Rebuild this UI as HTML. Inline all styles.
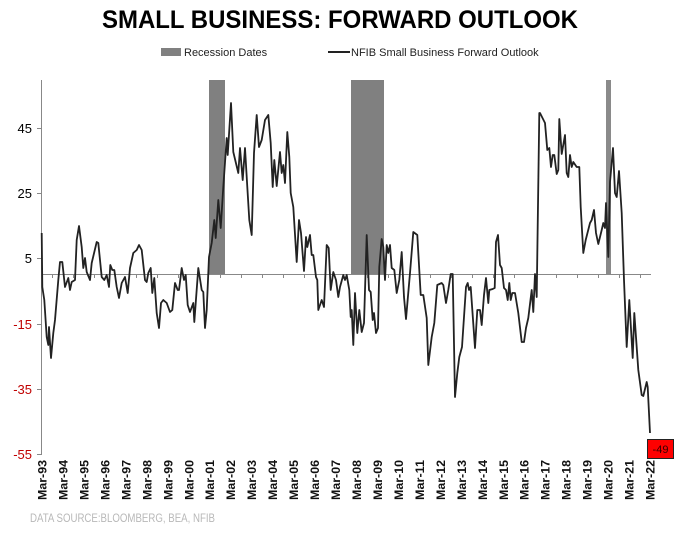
<!DOCTYPE html>
<html><head><meta charset="utf-8"><style>
body{margin:0;background:#fff;width:680px;height:536px;overflow:hidden;font-family:"Liberation Sans",sans-serif}
</style></head><body>
<svg width="680" height="536" xmlns="http://www.w3.org/2000/svg" font-family="Liberation Sans, sans-serif">
<text x="340" y="28" text-anchor="middle" font-size="25" font-weight="bold" fill="#000" textLength="476" lengthAdjust="spacingAndGlyphs">SMALL BUSINESS: FORWARD OUTLOOK</text>
<rect x="161" y="48" width="20" height="8" fill="#808080"/>
<text x="184" y="56" font-size="11" fill="#222">Recession Dates</text>
<line x1="328" y1="52" x2="350" y2="52" stroke="#222" stroke-width="2"/>
<text x="351" y="56" font-size="11" fill="#222">NFIB Small Business Forward Outlook</text>
<rect x="209" y="80" width="16" height="194" fill="#808080"/>
<rect x="351" y="80" width="33" height="194" fill="#808080"/>
<rect x="606" y="80" width="5" height="194" fill="#8a8a8a"/>
<line x1="41.5" y1="80" x2="41.5" y2="455" stroke="#888" stroke-width="1"/>
<g stroke="#888">
<line x1="37" y1="128.5" x2="41" y2="128.5"/><line x1="37" y1="193.5" x2="41" y2="193.5"/><line x1="37" y1="258.5" x2="41" y2="258.5"/><line x1="37" y1="324.5" x2="41" y2="324.5"/><line x1="37" y1="389.5" x2="41" y2="389.5"/><line x1="37" y1="454.5" x2="41" y2="454.5"/>
</g>
<line x1="41" y1="274.5" x2="651" y2="274.5" stroke="#888" stroke-width="1"/>
<g stroke="#888">
<line x1="52.5" y1="274" x2="52.5" y2="278"/><line x1="73.5" y1="274" x2="73.5" y2="278"/><line x1="94.5" y1="274" x2="94.5" y2="278"/><line x1="115.5" y1="274" x2="115.5" y2="278"/><line x1="136.5" y1="274" x2="136.5" y2="278"/><line x1="157.5" y1="274" x2="157.5" y2="278"/><line x1="178.5" y1="274" x2="178.5" y2="278"/><line x1="199.5" y1="274" x2="199.5" y2="278"/><line x1="220.5" y1="274" x2="220.5" y2="278"/><line x1="241.5" y1="274" x2="241.5" y2="278"/><line x1="262.5" y1="274" x2="262.5" y2="278"/><line x1="283.5" y1="274" x2="283.5" y2="278"/><line x1="304.5" y1="274" x2="304.5" y2="278"/><line x1="325.5" y1="274" x2="325.5" y2="278"/><line x1="346.5" y1="274" x2="346.5" y2="278"/><line x1="367.5" y1="274" x2="367.5" y2="278"/><line x1="388.5" y1="274" x2="388.5" y2="278"/><line x1="409.5" y1="274" x2="409.5" y2="278"/><line x1="430.5" y1="274" x2="430.5" y2="278"/><line x1="451.5" y1="274" x2="451.5" y2="278"/><line x1="472.5" y1="274" x2="472.5" y2="278"/><line x1="493.5" y1="274" x2="493.5" y2="278"/><line x1="514.5" y1="274" x2="514.5" y2="278"/><line x1="535.5" y1="274" x2="535.5" y2="278"/><line x1="556.5" y1="274" x2="556.5" y2="278"/><line x1="577.5" y1="274" x2="577.5" y2="278"/><line x1="598.5" y1="274" x2="598.5" y2="278"/><line x1="619.5" y1="274" x2="619.5" y2="278"/><line x1="640.5" y1="274" x2="640.5" y2="278"/>
</g>
<g font-size="13" text-anchor="end">
<text x="32" y="133" fill="#000">45</text><text x="32" y="198" fill="#000">25</text><text x="32" y="263" fill="#000">5</text>
<text x="32" y="329" fill="#c00000">-15</text><text x="32" y="394" fill="#c00000">-35</text><text x="32" y="459" fill="#c00000">-55</text>
</g>
<polyline fill="none" stroke="#222" stroke-width="1.8" stroke-linejoin="round" points="41.7,233 42.3,287 44.3,300 46.7,337 48.3,345 49,327 51,358 53.3,333 55,320 58.3,280 60,262 62.3,262 65,287 68.3,278 70,290 71.7,282 75,280 76.7,240 79,226 81.7,247 83.3,268 85,258 86.7,272 90,280 91.7,263 96.7,242 98.3,243 101.7,277 104.3,280 106.7,275 109,287 110.3,265 112.3,270 114.3,270 116.7,287 119,298 121.7,283 125,277 127.7,293 130,268 133.3,253 136.7,250 139,245 141.7,250 145,280 146.7,282 148.3,273 150.7,268 152.3,293 154.3,278 156.7,313 159,328 161,303 163.3,300 166.7,303 170,312 172.3,310 175,283 177.7,290 179,290 181.7,268 184,280 185.7,275 187.7,305 190,312 193.3,303 194.3,322 198.3,268 201.7,290 203.3,292 205,328 206.7,310 209,257 211.7,243 214.3,220 215.7,238 218.3,200 220.7,228 223.3,187 226.7,138 227.7,155 231,103 233.3,152 238.3,173 240,148 242.7,180 245,148 247.3,187 249.3,220 251.7,235 254,153 256.7,115 259,147 261.7,140 265,120 268.3,115 270.7,143 272.7,187 274.3,160 276.7,186 280,152 281.7,173 283.3,165 285,183 287.3,132 289.3,157 290.7,193 293.3,207 296.7,262 299,220 301,233 304,271 306,237 307.3,247 310,235 311.7,255 313.3,255 316,277 317.3,280 318.3,310 321.7,300 324,307 326.7,245 328.7,248 330.7,290 333.3,272 336,280 338.3,297 340,287 343.3,275 345,280 346.7,275 349.3,290 350.7,317 351.7,310 353.3,345 355,293 357.3,333 359.3,310 361.7,332 364,323 366.7,235 369,290 370.7,292 372.7,320 374,313 376,333 378,328 379.3,267 381.7,239 383.3,247 385,280 386.7,245 388.3,253 390,245 391.7,268 394.3,270 396.7,293 399.3,280 401.7,252 404,297 406,319 410,273 413.3,232 417.3,235 420.7,295 423.3,295 426.7,318 428.3,365 431.7,337 434.3,323 437.3,285 441.7,283 443.3,285 446,303 448.3,290 450.7,274 452.7,274 455,397 457.3,373 459.3,357 462,347 466,287 467.7,283 469,290 470.7,287 475,348 477.3,310 480,310 481.7,325 484,295 486,278 488.3,303 489.3,290 492.7,289 494.7,288 496,242 498,235 500,265 501.7,268 504,288 506,290 507.7,300 509.3,283 510.7,300 512.3,293 515,293 518.3,313 521.7,342 524,342 526,328 528.3,318 531.7,290 533.3,312 535,274 536.7,297 539.3,113 540,113 545,123 547.3,150 549.3,148 551,167 552.7,155 554.3,155 556.7,174 558.3,170 559.3,119 561.7,154 565,135 566.7,173 568.3,177 570,155 571.7,167 573.3,162 576.7,167 579.3,167 580.7,207 583.3,253 585.7,240 590,223 591.7,220 594,210 596,233 598.3,244 601.7,230 603.3,223 605,228 606,203 608.3,257 610,182 613,148 615,193 616.7,197 619,171 621.7,213 624,280 626.7,347 629.3,300 632.7,358 634.3,313 638.3,370 641.7,395 643.3,396 646.7,382 647.7,387 650,433"/>
<rect x="647.5" y="439.5" width="26" height="19" fill="#ff0000" stroke="#222" stroke-width="1"/>
<text x="660.5" y="453" text-anchor="middle" font-size="11" fill="#300">-49</text>
<g font-size="11.5" font-weight="bold" fill="#111" text-anchor="end">
<text transform="translate(46.5,460) rotate(-90)" textLength="40" lengthAdjust="spacingAndGlyphs">Mar-93</text>
<text transform="translate(67.5,460) rotate(-90)" textLength="40" lengthAdjust="spacingAndGlyphs">Mar-94</text>
<text transform="translate(88.4,460) rotate(-90)" textLength="40" lengthAdjust="spacingAndGlyphs">Mar-95</text>
<text transform="translate(109.4,460) rotate(-90)" textLength="40" lengthAdjust="spacingAndGlyphs">Mar-96</text>
<text transform="translate(130.4,460) rotate(-90)" textLength="40" lengthAdjust="spacingAndGlyphs">Mar-97</text>
<text transform="translate(151.3,460) rotate(-90)" textLength="40" lengthAdjust="spacingAndGlyphs">Mar-98</text>
<text transform="translate(172.3,460) rotate(-90)" textLength="40" lengthAdjust="spacingAndGlyphs">Mar-99</text>
<text transform="translate(193.3,460) rotate(-90)" textLength="40" lengthAdjust="spacingAndGlyphs">Mar-00</text>
<text transform="translate(214.2,460) rotate(-90)" textLength="40" lengthAdjust="spacingAndGlyphs">Mar-01</text>
<text transform="translate(235.2,460) rotate(-90)" textLength="40" lengthAdjust="spacingAndGlyphs">Mar-02</text>
<text transform="translate(256.2,460) rotate(-90)" textLength="40" lengthAdjust="spacingAndGlyphs">Mar-03</text>
<text transform="translate(277.1,460) rotate(-90)" textLength="40" lengthAdjust="spacingAndGlyphs">Mar-04</text>
<text transform="translate(298.1,460) rotate(-90)" textLength="40" lengthAdjust="spacingAndGlyphs">Mar-05</text>
<text transform="translate(319.1,460) rotate(-90)" textLength="40" lengthAdjust="spacingAndGlyphs">Mar-06</text>
<text transform="translate(340,460) rotate(-90)" textLength="40" lengthAdjust="spacingAndGlyphs">Mar-07</text>
<text transform="translate(361,460) rotate(-90)" textLength="40" lengthAdjust="spacingAndGlyphs">Mar-08</text>
<text transform="translate(382,460) rotate(-90)" textLength="40" lengthAdjust="spacingAndGlyphs">Mar-09</text>
<text transform="translate(402.9,460) rotate(-90)" textLength="40" lengthAdjust="spacingAndGlyphs">Mar-10</text>
<text transform="translate(423.9,460) rotate(-90)" textLength="40" lengthAdjust="spacingAndGlyphs">Mar-11</text>
<text transform="translate(444.9,460) rotate(-90)" textLength="40" lengthAdjust="spacingAndGlyphs">Mar-12</text>
<text transform="translate(465.8,460) rotate(-90)" textLength="40" lengthAdjust="spacingAndGlyphs">Mar-13</text>
<text transform="translate(486.8,460) rotate(-90)" textLength="40" lengthAdjust="spacingAndGlyphs">Mar-14</text>
<text transform="translate(507.8,460) rotate(-90)" textLength="40" lengthAdjust="spacingAndGlyphs">Mar-15</text>
<text transform="translate(528.7,460) rotate(-90)" textLength="40" lengthAdjust="spacingAndGlyphs">Mar-16</text>
<text transform="translate(549.7,460) rotate(-90)" textLength="40" lengthAdjust="spacingAndGlyphs">Mar-17</text>
<text transform="translate(570.7,460) rotate(-90)" textLength="40" lengthAdjust="spacingAndGlyphs">Mar-18</text>
<text transform="translate(591.6,460) rotate(-90)" textLength="40" lengthAdjust="spacingAndGlyphs">Mar-19</text>
<text transform="translate(612.6,460) rotate(-90)" textLength="40" lengthAdjust="spacingAndGlyphs">Mar-20</text>
<text transform="translate(633.5,460) rotate(-90)" textLength="40" lengthAdjust="spacingAndGlyphs">Mar-21</text>
<text transform="translate(654.5,460) rotate(-90)" textLength="40" lengthAdjust="spacingAndGlyphs">Mar-22</text>
</g>
<text x="30" y="522" font-size="11.5" fill="#b8b8b8" textLength="185" lengthAdjust="spacingAndGlyphs">DATA SOURCE:BLOOMBERG, BEA, NFIB</text>
</svg>
</body></html>
